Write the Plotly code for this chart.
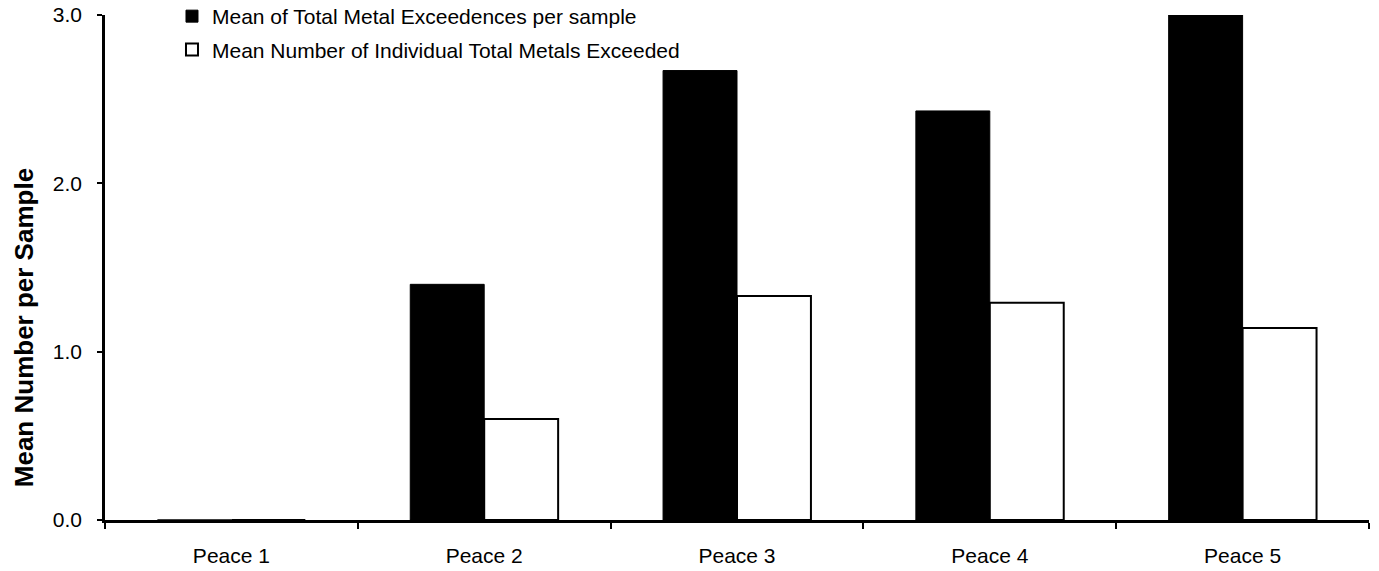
import plotly.graph_objects as go

categories = ["Peace 1", "Peace 2", "Peace 3", "Peace 4", "Peace 5"]
total_exceedences = [0.0, 1.40, 2.67, 2.43, 3.00]
individual_metals = [0.0, 0.60, 1.33, 1.29, 1.14]
series_names = ["Mean of Total Metal Exceedences per sample",
                "Mean Number of Individual Total Metals Exceeded"]
y_title = "Mean Number per Sample"

FONT = "Liberation Sans, Arial, sans-serif"

fig = go.Figure()
fig.add_trace(go.Bar(x=categories, y=total_exceedences, name=series_names[0], legendgroup="a",
                     marker=dict(color="black", line=dict(color="black", width=1))))
fig.add_trace(go.Bar(x=categories, y=individual_metals, name=series_names[1], legendgroup="b",
                     marker=dict(color="white", line=dict(color="black", width=2))))

fig.update_layout(
    width=1379, height=571,
    margin=dict(l=105, r=10, t=15, b=51, autoexpand=False),
    paper_bgcolor="white", plot_bgcolor="white",
    barmode="group", bargap=0.415, bargroupgap=0,
    font=dict(family=FONT, size=21, color="black"),
    showlegend=True,
    legend=dict(x=0.053, y=1.0, xref="paper", yref="paper", xanchor="left", yanchor="top",
                bgcolor="rgba(0,0,0,0)", font=dict(size=21), tracegroupgap=3,
                traceorder="grouped"),
    xaxis=dict(showline=True, linecolor="black", linewidth=2.5,
               ticks="outside", tickson="boundaries", ticklen=6, tickwidth=2, tickcolor="black",
               ticklabelstandoff=15, showgrid=False, zeroline=False,
               tickfont=dict(size=21)),
    yaxis=dict(range=[0, 3], dtick=1, tickformat=".1f", showline=True, linecolor="black",
               linewidth=2.5, ticks="outside", ticklen=5, tickwidth=2, tickcolor="black",
               ticklabelstandoff=11, showgrid=False, zeroline=False,
               tickfont=dict(size=21)),
    annotations=[dict(text="<b>" + y_title + "</b>", xref="paper", yref="paper",
                      x=-0.064, y=0.38, xanchor="center", yanchor="middle",
                      textangle=-90, showarrow=False, font=dict(size=26, family=FONT))],
)
# legend top placed 4px above the plot top (inside the fixed top margin)
fig.update_layout(legend_y=1 + 19 / 505)

fig.write_html("out.html")
